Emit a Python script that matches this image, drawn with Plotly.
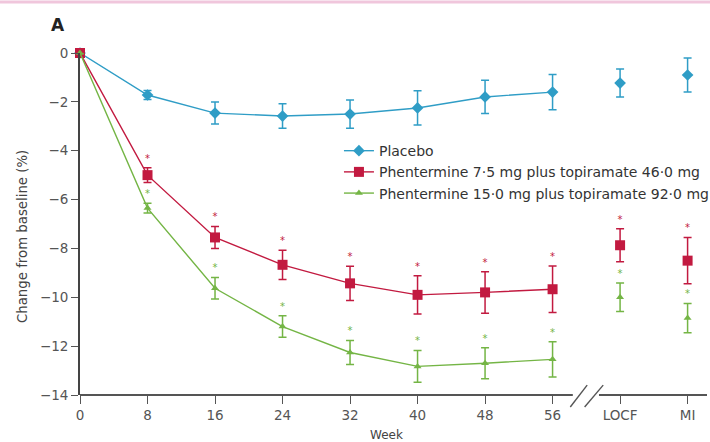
import plotly.graph_objects as go

# ---- data ----
weeks = [0, 8, 16, 24, 32, 40, 48, 56]
endpoint_labels = ["LOCF", "MI"]
endpoint_pos = [64, 72]
tick_vals = [0, 8, 16, 24, 32, 40, 48, 56, 64, 72]
tick_text = ["0", "8", "16", "24", "32", "40", "48", "56", "LOCF", "MI"]
y_ticks = [0, -2, -4, -6, -8, -10, -12, -14]

placebo = [0, -1.72, -2.46, -2.58, -2.5, -2.25, -1.8, -1.6]
placebo_err = [0, 0.18, 0.45, 0.5, 0.58, 0.7, 0.68, 0.72]
placebo_end = [-1.23, -0.9]
placebo_end_err = [0.57, 0.7]

mid = [0, -5.0, -7.55, -8.67, -9.43, -9.9, -9.8, -9.67]
mid_err = [0, 0.3, 0.45, 0.6, 0.7, 0.78, 0.85, 0.95]
mid_end = [-7.87, -8.5]
mid_end_err = [0.68, 0.95]

top = [0, -6.35, -9.63, -11.2, -12.26, -12.83, -12.7, -12.54]
top_err = [0, 0.2, 0.44, 0.44, 0.49, 0.65, 0.63, 0.72]
top_end = [-10.0, -10.85]
top_end_err = [0.58, 0.6]

names = ["Placebo",
         "Phentermine 7·5 mg plus topiramate 46·0 mg",
         "Phentermine 15·0 mg plus topiramate 92·0 mg"]
colors = ["#2f9dc6", "#c21a40", "#74b545"]
symbols = ["diamond", "square", "triangle-up"]
sizes = [9, 10, 7]

FONT = "DejaVu Sans"

fig = go.Figure()
series = [(placebo, placebo_err, placebo_end, placebo_end_err, False),
          (mid, mid_err, mid_end, mid_end_err, True),
          (top, top_err, top_end, top_end_err, True)]

for i, (vals, errs, ev, ee, star) in enumerate(series):
    c = colors[i]
    fig.add_trace(go.Scatter(
        x=weeks, y=vals, name=names[i], mode="lines+markers",
        line=dict(color=c, width=1.4),
        marker=dict(color=c, symbol=symbols[i], size=sizes[i]),
        error_y=dict(type="data", array=errs, color=c, thickness=1.5, width=4),
        cliponaxis=False))
    fig.add_trace(go.Scatter(
        x=endpoint_pos, y=ev, mode="markers", showlegend=False,
        marker=dict(color=c, symbol=symbols[i], size=sizes[i]),
        error_y=dict(type="data", array=ee, color=c, thickness=1.5, width=4),
        cliponaxis=False))
    if star:
        sx = weeks[1:] + endpoint_pos
        sy = [v + e + 0.35 for v, e in zip(vals[1:] + ev, errs[1:] + ee)]
        fig.add_trace(go.Scatter(
            x=sx, y=sy, mode="text", text=["*"] * len(sx), showlegend=False,
            textfont=dict(color=c, size=10, family=FONT),
            cliponaxis=False, hoverinfo="skip"))

W, H = 710, 442
L, R, T, B = 80, 3, 53, 47
pw, ph = W - L - R, H - T - B

fig.update_layout(
    width=W, height=H,
    margin=dict(l=L, r=R, t=T, b=B, autoexpand=False),
    paper_bgcolor="white", plot_bgcolor="white",
    font=dict(family=FONT, color="#444", size=12),
    showlegend=True,
    legend=dict(x=0.413, y=0.76, xanchor="left", yanchor="top",
                bgcolor="rgba(0,0,0,0)", font=dict(size=14, color="#333", family=FONT),
                tracegroupgap=0, itemwidth=30),
    xaxis=dict(range=[0, 74.3], tickvals=tick_vals, ticktext=tick_text,
               showgrid=False, zeroline=False, showline=False, automargin=False,
               ticks="outside", ticklen=8, tickcolor="#555", tickwidth=1.3,
               tickfont=dict(size=13.5, color="#555", family=FONT)),
    yaxis=dict(range=[-14, 0], tickvals=y_ticks, showgrid=False, zeroline=False,
               showline=True, linecolor="#444", linewidth=1.8, automargin=False,
               ticks="outside", ticklen=7, tickcolor="#555", tickwidth=1.3,
               ticklabelstandoff=0,
               tickfont=dict(size=13.5, color="#555", family=FONT)),
)

# axis titles
fig.add_annotation(text="Change from baseline (%)", xref="paper", yref="paper",
                   x=(22 - L) / pw, y=(H - B - 237) / ph, textangle=-90,
                   showarrow=False, font=dict(size=13.3, color="#444", family=FONT),
                   xanchor="center", yanchor="middle")
fig.add_annotation(text="Week", xref="paper", yref="paper",
                   x=(386 - L) / pw, y=(H - B - 435) / ph,
                   showarrow=False, font=dict(size=12, color="#444", family=FONT),
                   xanchor="center", yanchor="middle")

# x axis line with break
fig.add_shape(type="line", xref="x", yref="paper", x0=0, x1=58.4, y0=0, y1=0,
              line=dict(color="#555", width=1.8))
fig.add_shape(type="line", xref="x", yref="paper", x0=61.5, x1=74.3, y0=0, y1=0,
              line=dict(color="#555", width=1.8))
for x0, x1 in [(58.1, 60.1), (59.8, 62.0)]:
    fig.add_shape(type="line", xref="x", yref="paper",
                  x0=x0, x1=x1, y0=-0.035, y1=0.029,
                  line=dict(color="#555", width=1.4))

# panel letter and top border
fig.add_annotation(text="<b>A</b>", xref="paper", yref="paper",
                   x=(58 - L) / pw, y=1 + (T - 25) / ph, showarrow=False,
                   font=dict(size=17, color="#222", family=FONT),
                   xanchor="center", yanchor="middle")
fig.add_shape(type="line", xref="paper", yref="paper",
              x0=-L / pw, x1=1 + R / pw, y0=1 + (T - 2) / ph, y1=1 + (T - 2) / ph,
              line=dict(color="#f0c6dc", width=3))

fig.write_html("out.html", config={"displayModeBar": False},
               post_script="document.body.style.margin='0';document.body.style.padding='0';")
